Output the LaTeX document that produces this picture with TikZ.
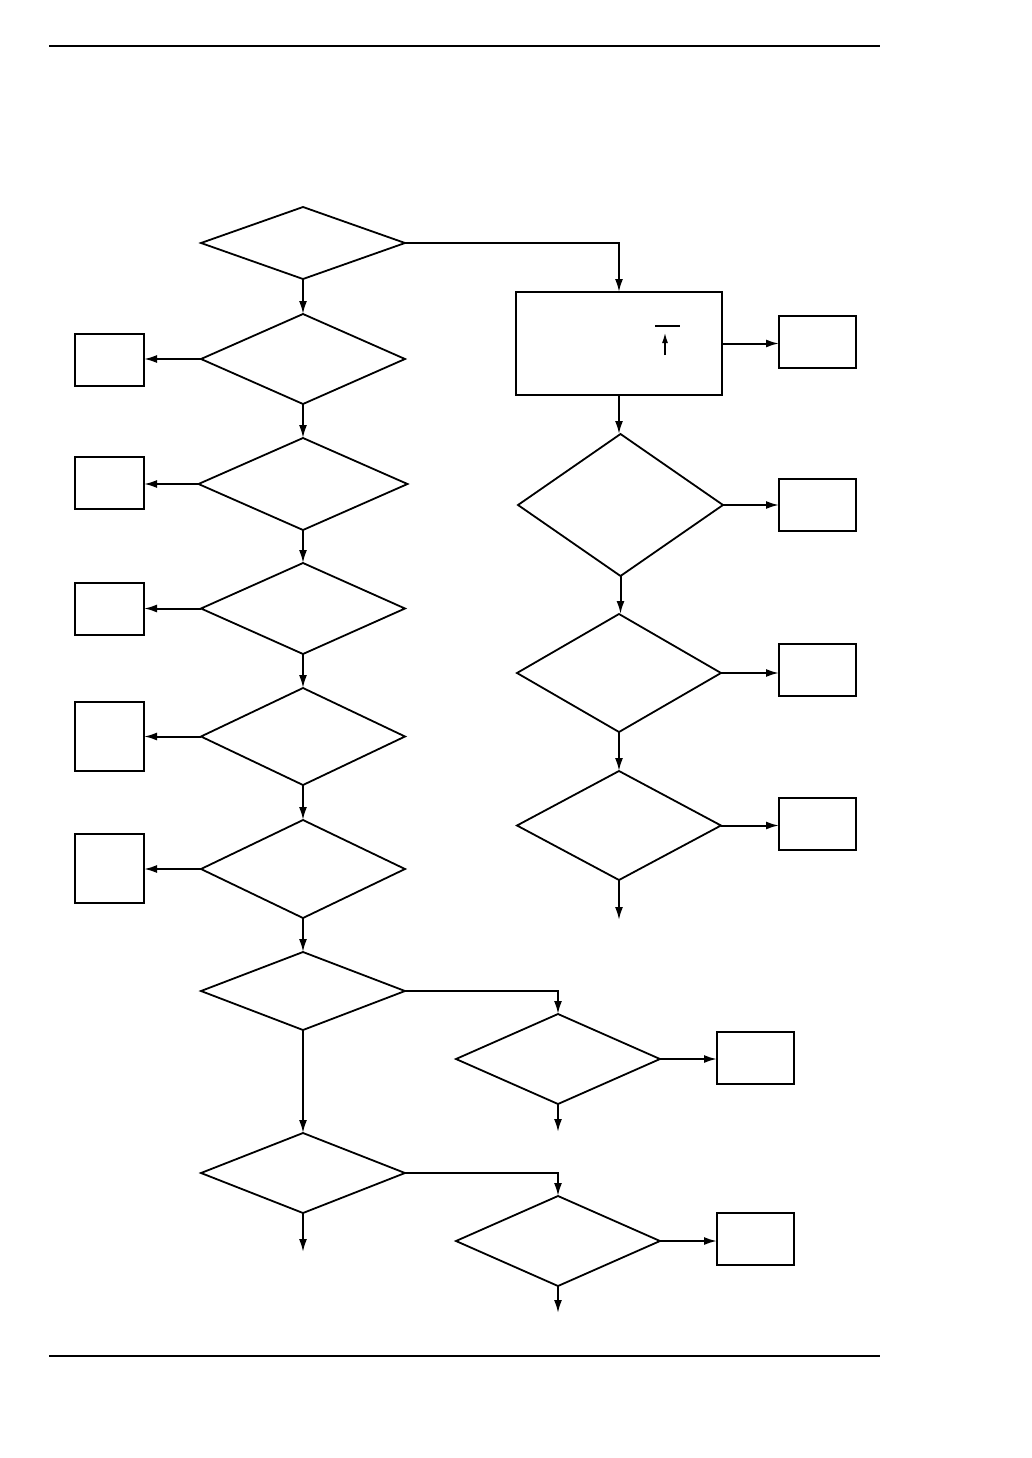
\documentclass[tikz,border=0pt]{standalone}
\usetikzlibrary{shapes.geometric,arrows.meta}
\begin{document}
\begin{tikzpicture}[x=1pt,y=-1pt,
  dia/.style={draw,diamond,inner sep=0pt,outer sep=0pt,line width=1.8pt},
  box/.style={draw,rectangle,inner sep=0pt,outer sep=0pt,line width=1.8pt},
  arr/.style={line width=2pt,-{Latex[length=13pt,width=8pt]}},
  rule/.style={line width=1.2pt}]
\useasboundingbox (0,0) rectangle (1032,1458);
% page rules
\coordinate (t1) at (49,46); \coordinate (t2) at (880,46);
\coordinate (u1) at (49,1356); \coordinate (u2) at (880,1356);
\draw[rule] (t1) -- (t2);
\draw[rule] (u1) -- (u2);
% left column diamonds
\node[dia,minimum width=204pt,minimum height=72pt] (d1) at (303,243) {};
\node[dia,minimum width=204pt,minimum height=90pt] (d2) at (303,359) {};
\node[dia,minimum width=209pt,minimum height=92pt] (d3) at (303,484) {};
\node[dia,minimum width=204pt,minimum height=91pt] (d4) at (303,608.5) {};
\node[dia,minimum width=204pt,minimum height=97pt] (d5) at (303,736.5) {};
\node[dia,minimum width=204pt,minimum height=98pt] (d6) at (303,869) {};
\node[dia,minimum width=204pt,minimum height=78pt] (d7) at (303,991) {};
\node[dia,minimum width=204pt,minimum height=80pt] (d8) at (303,1173) {};
% left boxes
\node[box,minimum width=69pt,minimum height=52pt] (b1) at (109.5,360) {};
\node[box,minimum width=69pt,minimum height=52pt] (b2) at (109.5,483) {};
\node[box,minimum width=69pt,minimum height=52pt] (b3) at (109.5,609) {};
\node[box,minimum width=69pt,minimum height=69pt] (b4) at (109.5,736.5) {};
\node[box,minimum width=69pt,minimum height=69pt] (b5) at (109.5,868.5) {};
% right column
\node[box,minimum width=206pt,minimum height=103pt] (r0) at (619,343.5) {};
\node[dia,minimum width=205pt,minimum height=142pt] (d9) at (620.5,505) {};
\node[dia,minimum width=204pt,minimum height=118pt] (d10) at (619,673) {};
\node[dia,minimum width=204pt,minimum height=109pt] (d11) at (619,825.5) {};
\node[box,minimum width=77pt,minimum height=52pt] (rb1) at (817.5,342) {};
\node[box,minimum width=77pt,minimum height=52pt] (rb2) at (817.5,505) {};
\node[box,minimum width=77pt,minimum height=52pt] (rb3) at (817.5,670) {};
\node[box,minimum width=77pt,minimum height=52pt] (rb4) at (817.5,824) {};
% lower branch
\node[dia,minimum width=204pt,minimum height=90pt] (d12) at (558,1059) {};
\node[dia,minimum width=204pt,minimum height=90pt] (d13) at (558,1241) {};
\node[box,minimum width=77pt,minimum height=52pt] (rb5) at (755.5,1058) {};
\node[box,minimum width=77pt,minimum height=52pt] (rb6) at (755.5,1239) {};
% free ends
\coordinate (e1) at (619,920);
\coordinate (e2) at (558,1132);
\coordinate (e3) at (558,1313);
\coordinate (e4) at (303,1252);
% small mark inside r0
\coordinate (m1) at (655,326); \coordinate (m2) at (680,326);
\coordinate (m3) at (665,355); \coordinate (m4) at (665,333);
\draw[line width=1.2pt] (m1) -- (m2);
\draw[line width=1.2pt,-{Latex[length=10pt,width=6pt]}] (m3) -- (m4);
% connectors
\draw[arr] (d1.east) -| (r0.north);
\draw[arr] (d1.south) -- (d2.north);
\draw[arr] (d2.south) -- (d3.north);
\draw[arr] (d3.south) -- (d4.north);
\draw[arr] (d4.south) -- (d5.north);
\draw[arr] (d5.south) -- (d6.north);
\draw[arr] (d6.south) -- (d7.north);
\draw[arr] (d7.south) -- (d8.north);
\draw[arr] (d2.west) -- (d2.west -| b1.east);
\draw[arr] (d3.west) -- (d3.west -| b2.east);
\draw[arr] (d4.west) -- (d4.west -| b3.east);
\draw[arr] (d5.west) -- (d5.west -| b4.east);
\draw[arr] (d6.west) -- (d6.west -| b5.east);
\draw[arr] (r0.east) -- (r0.east -| rb1.west);
\draw[arr] (r0.south) -- (r0.south |- d9.north);
\draw[arr] (d9.east) -- (d9.east -| rb2.west);
\draw[arr] (d9.south) -- (d9.south |- d10.north);
\draw[arr] (d10.east) -- (d10.east -| rb3.west);
\draw[arr] (d10.south) -- (d11.north);
\draw[arr] (d11.east) -- (d11.east -| rb4.west);
\draw[arr] (d11.south) -- (e1);
\draw[arr] (d7.east) -| (d12.north);
\draw[arr] (d12.east) -- (d12.east -| rb5.west);
\draw[arr] (d12.south) -- (e2);
\draw[arr] (d8.east) -| (d13.north);
\draw[arr] (d13.east) -- (d13.east -| rb6.west);
\draw[arr] (d13.south) -- (e3);
\draw[arr] (d8.south) -- (e4);
\end{tikzpicture}
\end{document}
